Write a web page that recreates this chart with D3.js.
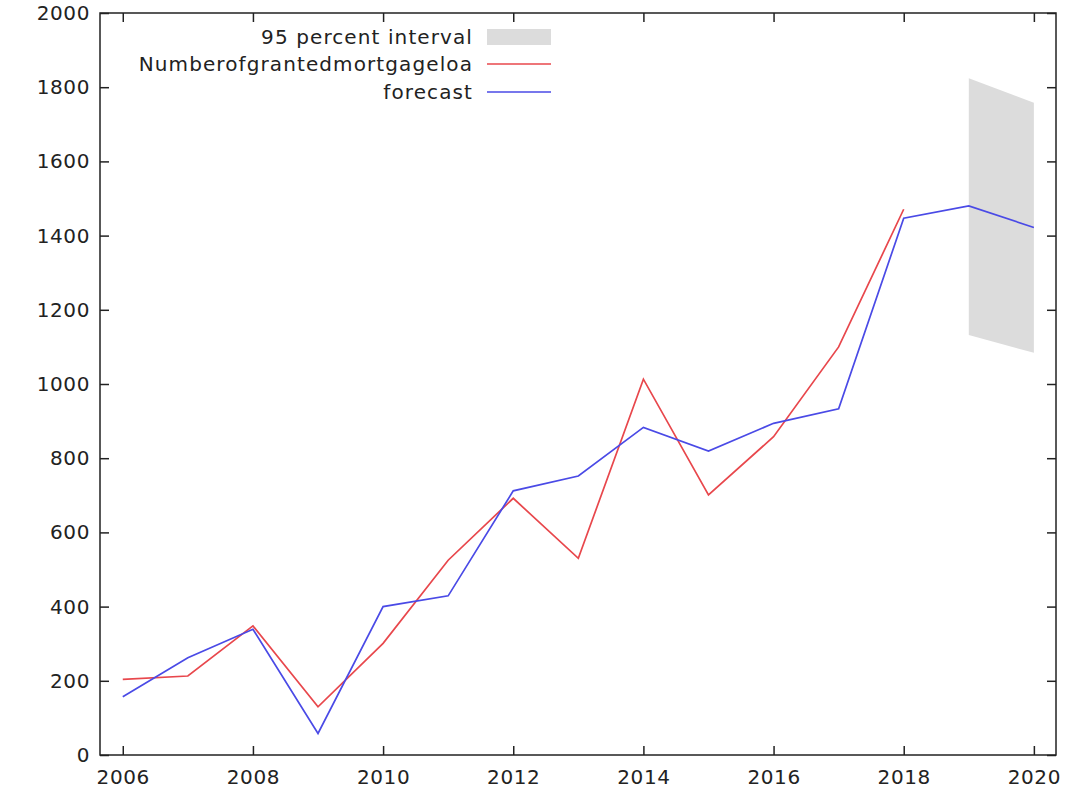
<!DOCTYPE html>
<html>
<head>
<meta charset="utf-8">
<script src="https://cdn.jsdelivr.net/npm/d3@7"></script>
<style>
  body { margin: 0; background: #fff; }
  text { font-family: "DejaVu Sans", sans-serif; fill: #222; }
</style>
</head>
<body>
<div id="chart"></div>
<script>
// observed series
var years = [2006, 2007, 2008, 2009, 2010, 2011, 2012, 2013, 2014, 2015, 2016, 2017, 2018];
var granted = [204, 213, 348, 130, 301, 525, 692, 530, 1013, 701, 858, 1100, 1471];

// fitted + forecast
var forecastYears = [2006, 2007, 2008, 2009, 2010, 2011, 2012, 2013, 2014, 2015, 2016, 2017, 2018, 2019, 2020];
var forecast = [157, 262, 339, 58, 400, 429, 712, 752, 883, 819, 894, 933, 1447, 1480, 1422];

// 95 percent interval
var intervalYears = [2019, 2020];
var intervalLow = [1132, 1084];
var intervalHigh = [1824, 1758];

var xTicks = [2006, 2008, 2010, 2012, 2014, 2016, 2018, 2020];
var yTicks = [0, 200, 400, 600, 800, 1000, 1200, 1400, 1600, 1800, 2000];

var legendLabels = ["95 percent interval", "Numberofgrantedmortgageloa", "forecast"];

var width = 1068,
    height = 804,
    margin = {top: 13, right: 12, bottom: 49, left: 100};

var svg = d3.select("#chart")
    .append("svg")
    .attr("width", width)
    .attr("height", height);

var x = d3.scaleLinear()
    .domain([2005.65, 2020.34])
    .range([margin.left, width - margin.right]);

var y = d3.scaleLinear()
    .domain([0, 2000])
    .range([height - margin.bottom, margin.top]);

var red = "#e8474c",
    blue = "#4a4ae6",
    gray = "#dcdcdc";

// interval band
var band = intervalYears.map((d, i) => ({year: d, lo: intervalLow[i], hi: intervalHigh[i]}));
svg.append("path")
    .datum(band)
    .attr("fill", gray)
    .attr("d", d3.area()
        .x(d => x(d.year))
        .y0(d => y(d.lo))
        .y1(d => y(d.hi)));

var line = d3.line()
    .x(d => x(d[0]))
    .y(d => y(d[1]));

svg.append("path")
    .datum(d3.zip(years, granted))
    .attr("fill", "none")
    .attr("stroke", red)
    .attr("stroke-width", 1.7)
    .attr("d", line);

svg.append("path")
    .datum(d3.zip(forecastYears, forecast))
    .attr("fill", "none")
    .attr("stroke", blue)
    .attr("stroke-width", 1.7)
    .attr("d", line);

// axes, ticks point inward (gnuplot style)
var fontSize = 20;

var gx = svg.append("g")
    .attr("transform", "translate(0," + (height - margin.bottom) + ")")
    .call(d3.axisBottom(x).tickValues(xTicks).tickFormat(d3.format("d")).tickSize(-9).tickPadding(15));

var gxTop = svg.append("g")
    .attr("transform", "translate(0," + margin.top + ")")
    .call(d3.axisTop(x).tickValues(xTicks).tickFormat("").tickSize(-9));

var gy = svg.append("g")
    .attr("transform", "translate(" + margin.left + ",0)")
    .call(d3.axisLeft(y).tickValues(yTicks).tickFormat(d3.format("d")).tickSize(-9).tickPadding(10));

var gyRight = svg.append("g")
    .attr("transform", "translate(" + (width - margin.right) + ",0)")
    .call(d3.axisRight(y).tickValues(yTicks).tickFormat("").tickSize(-9));

[gx, gxTop, gy, gyRight].forEach(g => {
    g.select(".domain").remove();
    g.selectAll(".tick line").attr("stroke", "#222").attr("stroke-width", 1.5);
    g.selectAll("text")
        .style("font-family", "'DejaVu Sans', sans-serif")
        .style("font-size", fontSize + "px")
        .style("letter-spacing", "0.6px")
        .attr("fill", "#222");
});

// frame
svg.append("rect")
    .attr("x", margin.left)
    .attr("y", margin.top)
    .attr("width", width - margin.left - margin.right)
    .attr("height", height - margin.top - margin.bottom)
    .attr("fill", "none")
    .attr("stroke", "#222")
    .attr("stroke-width", 1.5);

// legend
var legendRight = 473,
    rowY = [37, 64, 92];

var legend = svg.append("g");
legendLabels.forEach((lab, i) => {
    legend.append("text")
        .attr("x", legendRight)
        .attr("y", rowY[i])
        .attr("dy", "0.35em")
        .attr("text-anchor", "end")
        .style("font-size", fontSize + "px")
        .style("letter-spacing", "1.1px")
        .text(lab);
});

legend.append("rect")
    .attr("x", 487)
    .attr("y", rowY[0] - 8)
    .attr("width", 64)
    .attr("height", 16)
    .attr("fill", gray);

legend.append("line")
    .attr("x1", 487).attr("x2", 551)
    .attr("y1", rowY[1]).attr("y2", rowY[1])
    .attr("stroke", red)
    .attr("stroke-width", 1.7);

legend.append("line")
    .attr("x1", 487).attr("x2", 551)
    .attr("y1", rowY[2]).attr("y2", rowY[2])
    .attr("stroke", blue)
    .attr("stroke-width", 1.7);
</script>
</body>
</html>
